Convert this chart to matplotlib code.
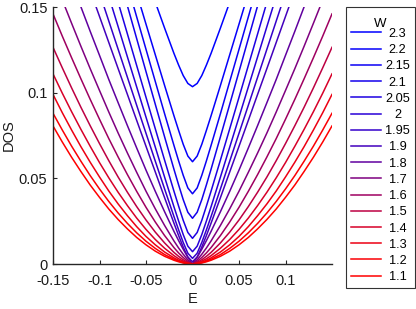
import numpy as np
import matplotlib
matplotlib.use('Agg')
import matplotlib.pyplot as plt

plt.rcParams['font.family'] = ['Liberation Sans', 'DejaVu Sans']
plt.rcParams['axes.unicode_minus'] = False

# energy grid (E >= 0), curves are symmetric in E
energy = [0, 0.005, 0.01, 0.015, 0.02, 0.03, 0.04, 0.05, 0.06, 0.07,
          0.08, 0.09, 0.10, 0.11, 0.12, 0.13, 0.14, 0.15]

w_labels = ['2.3', '2.2', '2.15', '2.1', '2.05', '2', '1.95', '1.9',
            '1.8', '1.7', '1.6', '1.5', '1.4', '1.3', '1.2', '1.1']

dos_230 = [0.1035, 0.1054, 0.1100, 0.1162, 0.1230, 0.1377, 0.1528, 0.1683, 0.1838,
           0.1994, 0.2151, 0.2308, 0.2465, 0.2622, 0.2780, 0.2937, 0.3095, 0.3252]
dos_220 = [0.0597, 0.0630, 0.0699, 0.0781, 0.0866, 0.1042, 0.1221, 0.1400, 0.1580,
           0.1760, 0.1940, 0.2121, 0.2302, 0.2482, 0.2663, 0.2844, 0.3025, 0.3206]
dos_215 = [0.0410, 0.0444, 0.0518, 0.0603, 0.0693, 0.0877, 0.1065, 0.1253, 0.1442,
           0.1631, 0.1820, 0.2010, 0.2199, 0.2389, 0.2579, 0.2769, 0.2958, 0.3148]
dos_210 = [0.0267, 0.0302, 0.0376, 0.0463, 0.0554, 0.0742, 0.0932, 0.1123, 0.1315,
           0.1507, 0.1699, 0.1892, 0.2085, 0.2277, 0.2470, 0.2663, 0.2856, 0.3049]
dos_205 = [0.0150, 0.0184, 0.0255, 0.0339, 0.0426, 0.0606, 0.0789, 0.0973, 0.1158,
           0.1343, 0.1528, 0.1713, 0.1898, 0.2083, 0.2269, 0.2454, 0.2639, 0.2825]
dos_200 = [0.0072, 0.0104, 0.0172, 0.0252, 0.0335, 0.0507, 0.0682, 0.0857, 0.1033,
           0.1209, 0.1386, 0.1562, 0.1739, 0.1916, 0.2092, 0.2269, 0.2446, 0.2623]
dos_195 = [0.0033, 0.0063, 0.0126, 0.0200, 0.0278, 0.0438, 0.0600, 0.0763, 0.0926,
           0.1090, 0.1254, 0.1418, 0.1582, 0.1746, 0.1911, 0.2075, 0.2239, 0.2404]
dos_190 = [0.0013, 0.0041, 0.0099, 0.0167, 0.0239, 0.0387, 0.0537, 0.0687, 0.0838,
           0.0990, 0.1141, 0.1293, 0.1445, 0.1596, 0.1748, 0.1900, 0.2052, 0.2204]
dos_180 = [0.0000, 0.0039, 0.0086, 0.0137, 0.0191, 0.0305, 0.0424, 0.0548, 0.0677,
           0.0808, 0.0942, 0.1077, 0.1218, 0.1358, 0.1501, 0.1646, 0.1792, 0.1940]
dos_170 = [0.0000, 0.0024, 0.0057, 0.0094, 0.0135, 0.0225, 0.0322, 0.0425, 0.0535,
           0.0648, 0.0765, 0.0887, 0.1013, 0.1140, 0.1271, 0.1405, 0.1541, 0.1680]
dos_160 = [0.0000, 0.0015, 0.0038, 0.0065, 0.0096, 0.0166, 0.0245, 0.0331, 0.0424,
           0.0522, 0.0625, 0.0732, 0.0845, 0.0961, 0.1081, 0.1204, 0.1330, 0.1460]
dos_150 = [0.0000, 0.0009, 0.0025, 0.0045, 0.0068, 0.0123, 0.0186, 0.0257, 0.0335,
           0.0419, 0.0508, 0.0603, 0.0703, 0.0807, 0.0915, 0.1028, 0.1145, 0.1265]
dos_140 = [0.0000, 0.0006, 0.0017, 0.0031, 0.0049, 0.0092, 0.0143, 0.0202, 0.0268,
           0.0341, 0.0419, 0.0503, 0.0592, 0.0687, 0.0786, 0.0889, 0.0997, 0.1110]
dos_130 = [0.0000, 0.0004, 0.0011, 0.0022, 0.0036, 0.0070, 0.0112, 0.0161, 0.0218,
           0.0282, 0.0351, 0.0426, 0.0508, 0.0594, 0.0685, 0.0782, 0.0883, 0.0990]
dos_120 = [0.0000, 0.0003, 0.0008, 0.0017, 0.0028, 0.0055, 0.0091, 0.0133, 0.0182,
           0.0237, 0.0298, 0.0365, 0.0438, 0.0516, 0.0600, 0.0688, 0.0782, 0.0880]
dos_110 = [0.0000, 0.0002, 0.0006, 0.0013, 0.0022, 0.0045, 0.0075, 0.0112, 0.0155,
           0.0205, 0.0260, 0.0321, 0.0389, 0.0461, 0.0540, 0.0623, 0.0712, 0.0806]

dos_curves = [dos_230, dos_220, dos_215, dos_210, dos_205, dos_200, dos_195, dos_190,
              dos_180, dos_170, dos_160, dos_150, dos_140, dos_130, dos_120, dos_110]

fig = plt.figure(figsize=(4.16, 3.09), dpi=100)
ax = fig.add_axes([0.1274, 0.1456, 0.6707, 0.8317])

e_half = np.array(energy)
e_full = np.concatenate([-e_half[::-1], e_half[1:]])
for lab, dos in zip(w_labels, dos_curves):
    d_half = np.array(dos)
    d_full = np.concatenate([d_half[::-1], d_half[1:]])
    # blue (W=2.3) -> red (W=1.1), a bit faster through the purple middle
    t = (2.3 - float(lab)) / 1.2
    t = 3 * t**2 - 2 * t**3
    ax.plot(e_full, d_full, color=(t, 0, 1 - t), lw=1.1, label=lab)

ax.set_xlim(-0.15, 0.15)
ax.set_ylim(0, 0.15)
ax.set_xticks([-0.15, -0.1, -0.05, 0, 0.05, 0.1])
ax.set_xticklabels(['-0.15', '-0.1', '-0.05', '0', '0.05', '0.1'])
ax.set_yticks([0, 0.05, 0.1, 0.15])
ax.set_yticklabels(['0', '0.05', '0.1', '0.15'])

for s in ['top', 'right']:
    ax.spines[s].set_visible(False)
for s in ['left', 'bottom']:
    ax.spines[s].set_color('#262626')
    ax.spines[s].set_linewidth(1.0)
ax.tick_params(direction='in', length=3, width=0.8, labelsize=10.5,
               colors='#262626', labelcolor='#1a1a1a')
ax.tick_params(axis='x', pad=7)
ax.tick_params(axis='y', pad=4)

ax.set_xlabel('E', fontsize=10.5, color='#1a1a1a')
ax.set_ylabel('DOS', fontsize=10.5, color='#1a1a1a')
ax.xaxis.set_label_coords(0.5, -0.109)
ax.yaxis.set_label_coords(-0.134, 0.5)

leg = ax.legend(loc='upper left', bbox_to_anchor=(0.832, 0.977),
                bbox_transform=fig.transFigure, title='W', fontsize=9.2,
                title_fontsize=9.5, frameon=True, fancybox=False,
                edgecolor='black', borderaxespad=0, handlelength=2.4,
                handletextpad=0.3, labelspacing=0.33, borderpad=0.36)
leg.get_frame().set_linewidth(0.8)

# centre the legend labels like the original, nudge the title down a little
fig.canvas.draw()
texts = leg.get_texts()
widths = [t.get_window_extent().width for t in texts]
maxw = max(widths)
for t, w in zip(texts, widths):
    t.set_position(((maxw - w) / 2, 0))
leg.get_title().set_position((0, -6))

fig.savefig('out.png', dpi=100)
